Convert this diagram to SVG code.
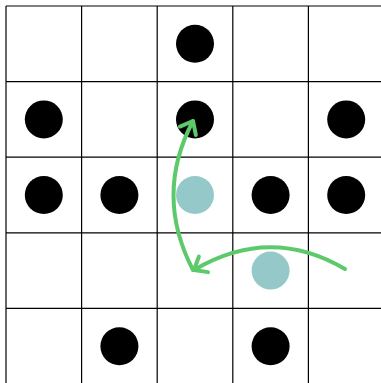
<svg xmlns="http://www.w3.org/2000/svg" width="381" height="383" viewBox="0 0 381 383">
<defs>
<style>
.grid line{stroke:#000;stroke-width:1.2}
.b{fill:#000}
.t{fill:#95C9C9}
.arr{fill:none;stroke:#5CC96A;stroke-width:4;stroke-linecap:round}
</style>
<marker id="ah" markerUnits="userSpaceOnUse" viewBox="-14 -12 18 24" markerWidth="18" markerHeight="24" refX="0" refY="0" orient="auto">
<path d="M-11,-9 L0,0 L-11,9" fill="none" stroke="#5CC96A" stroke-width="4" stroke-linecap="round" stroke-linejoin="round"/>
</marker>
</defs>
<rect width="381" height="383" fill="#fff"/>
<g class="grid">
<line x1="6" y1="6" x2="6" y2="383"/>
<line x1="81.6" y1="6" x2="81.6" y2="383"/>
<line x1="157.2" y1="6" x2="157.2" y2="383"/>
<line x1="232.8" y1="6" x2="232.8" y2="383"/>
<line x1="308.4" y1="6" x2="308.4" y2="383"/>
<line x1="6" y1="6" x2="381" y2="6"/>
<line x1="6" y1="81.6" x2="381" y2="81.6"/>
<line x1="6" y1="157.2" x2="381" y2="157.2"/>
<line x1="6" y1="232.8" x2="381" y2="232.8"/>
<line x1="6" y1="308.4" x2="381" y2="308.4"/>
</g>
<g id="stones">
<circle id="s1" class="b" cx="195" cy="43.8" r="19"/>
<circle id="s2" class="b" cx="43.8" cy="119.4" r="19"/>
<circle id="s3" class="b" cx="195" cy="119.4" r="19"/>
<circle id="s4" class="b" cx="346.2" cy="119.4" r="19"/>
<circle id="s5" class="b" cx="43.8" cy="195" r="19"/>
<circle id="s6" class="b" cx="119.4" cy="195" r="19"/>
<circle id="s7" class="t" cx="195" cy="195" r="19"/>
<circle id="s8" class="b" cx="270.6" cy="195" r="19"/>
<circle id="s9" class="b" cx="346.2" cy="195" r="19"/>
<circle id="s10" class="t" cx="270.6" cy="270.6" r="19"/>
<circle id="s11" class="b" cx="119.4" cy="346.2" r="19"/>
<circle id="s12" class="b" cx="270.6" cy="346.2" r="19"/>
</g>
<g id="connectors">
<path class="arr" d="M345,269 Q270,225 194,270" marker-end="url(#ah)"/>
<path class="arr" d="M193,270 Q154,195 193,121" marker-end="url(#ah)"/>
</g>
</svg>
